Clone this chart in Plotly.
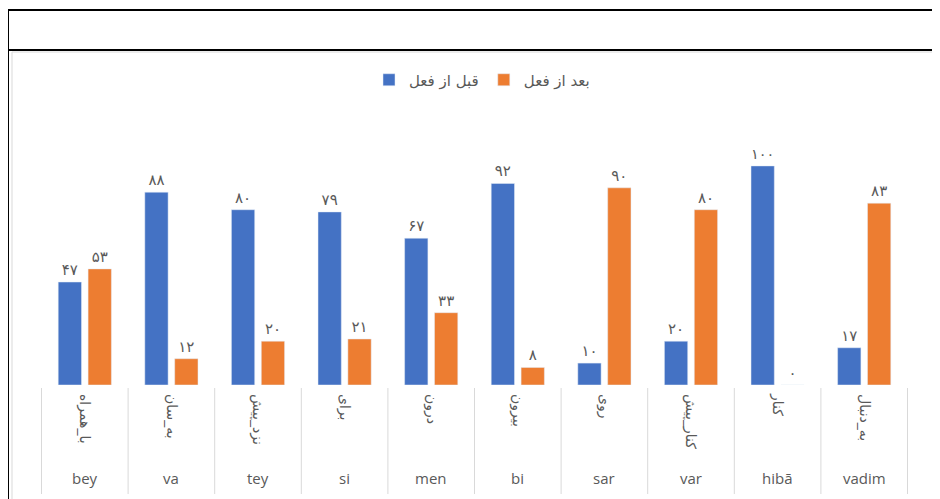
import plotly.graph_objects as go

# ---- data ----
latin_labels = ["bey", "va", "tey", "si", "men", "bi", "sar", "var", "hibā", "vadim"]
persian_labels = ["با_همراه", "به_سان", "نزد_پیش", "برای", "درون", "بیرون", "روی", "کنار_پیش", "کنار", "به_دنبال"]
before_name = "قبل از فعل"
after_name = "بعد از فعل"
before_values = [47, 88, 80, 79, 67, 92, 10, 20, 100, 17]
after_values = [53, 12, 20, 21, 33, 8, 90, 80, 0, 83]

FA = str.maketrans("0123456789", "۰۱۲۳۴۵۶۷۸۹")
def fa(v):
    return str(v).translate(FA)

# page places the figure at (8, 8); work in screen pixels and convert
OFF = 8
W, H = 940 - OFF, 499 - OFF
SX0, SX1, SY_BASE, SY_TOP = 41, 908, 385, 144   # screen px of plot area
L, R = SX0 - OFF, W - (SX1 - OFF)
T, B = SY_TOP - OFF, H - (SY_BASE - OFF)
PW, PH = W - L - R, H - T - B
def px(x):
    return (x - OFF - L) / PW
def py(y):
    return (H - B - (y - OFF)) / PH

fig = go.Figure()
fig.add_trace(go.Bar(
    x=latin_labels, y=before_values, name=before_name,
    marker_color="#4472C4",
    text=[fa(v) for v in before_values], textposition="outside",
    textfont=dict(color="#595959", size=15, family="DejaVu Sans"),
    cliponaxis=False,
))
fig.add_trace(go.Bar(
    x=latin_labels, y=after_values, name=after_name,
    marker_color="#ED7D31",
    text=[fa(v) for v in after_values], textposition="outside",
    textfont=dict(color="#595959", size=15, family="DejaVu Sans"),
    cliponaxis=False,
))

shapes = [
    dict(type="rect", xref="paper", yref="paper", x0=px(12), x1=px(935), y0=py(505), y1=py(52),
         line=dict(color="#d9d9d9", width=1), layer="below"),
    dict(type="line", xref="paper", yref="paper", x0=px(7), x1=px(945), y0=py(10), y1=py(10),
         line=dict(color="black", width=2)),
    dict(type="line", xref="paper", yref="paper", x0=px(7), x1=px(945), y0=py(50), y1=py(50),
         line=dict(color="black", width=2)),
    dict(type="line", xref="paper", yref="paper", x0=px(8), x1=px(8), y0=py(9), y1=py(505),
         line=dict(color="black", width=2)),
    dict(type="line", xref="paper", yref="paper", x0=px(939), x1=px(939), y0=py(9), y1=py(505),
         line=dict(color="black", width=2)),
]
# category dividers in the label area
for i in range(len(latin_labels) + 1):
    shapes.append(dict(type="line", xref="x", yref="paper", x0=i - 0.5, x1=i - 0.5,
                       y0=py(388), y1=py(494), line=dict(color="#d9d9d9", width=1)))

annotations = [
    dict(x=lab, xref="x", y=py(478), yref="paper", text=lab, showarrow=False,
         yanchor="middle", font=dict(size=15, family="Open Sans", color="#595959"))
    for lab in latin_labels
]

fig.update_layout(
    width=W, height=H,
    margin=dict(l=L, r=R, t=T, b=B),
    paper_bgcolor="white", plot_bgcolor="white",
    barmode="group", bargap=0.31, bargroupgap=0.22,
    font=dict(family="DejaVu Sans", color="#595959", size=13),
    showlegend=True,
    legend=dict(orientation="h", x=px(482), xanchor="center", y=py(80), yanchor="middle",
                traceorder="normal", font=dict(size=15, family="DejaVu Sans", color="#595959"),
                bgcolor="rgba(0,0,0,0)", itemwidth=30),
    xaxis=dict(type="category", tickvals=latin_labels, ticktext=persian_labels, tickangle=90,
               showline=False, ticks="", showgrid=False, ticklabelstandoff=8,
               tickfont=dict(size=14, family="DejaVu Sans", color="#595959")),
    yaxis=dict(range=[0, 110], visible=False, showgrid=False, zeroline=False),
    shapes=shapes,
    annotations=annotations,
)

fig.write_html("out.html")
